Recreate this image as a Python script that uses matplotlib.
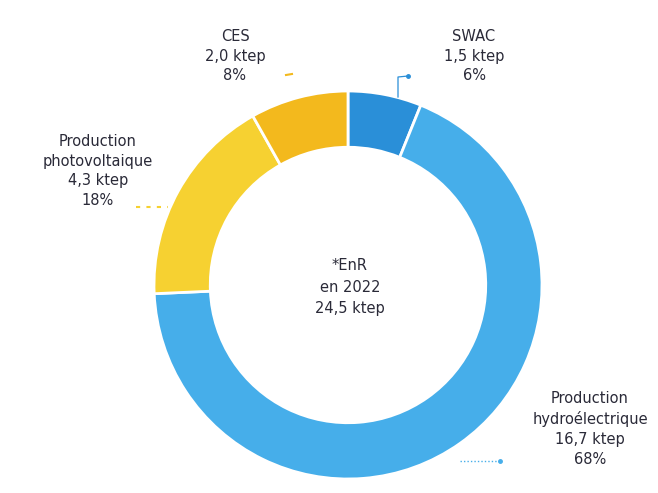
import matplotlib.pyplot as plt

labels = ['SWAC', 'Production\nhydroélectrique', 'Production\nphotovoltaique', 'CES']
values = [1.5, 16.7, 4.3, 2.0]
shares = [6, 68, 18, 8]
colors = ['#2a8fd8', '#46aeea', '#f6d131', '#f3b91d']
total_label = '*EnR\nen 2022\n24,5 ktep'

plt.rcParams['font.family'] = ['DejaVu Sans']
txt_color = '#2a2a38'

fig = plt.figure(figsize=(6.58, 4.93), dpi=100)
W, H = 658, 493
cx, cy, r = 348, 285, 194
ax = fig.add_axes([(cx - r) / W, (H - cy - r) / H, 2 * r / W, 2 * r / H])

ax.pie(values, colors=colors, startangle=90, counterclock=False,
       wedgeprops=dict(width=0.29, edgecolor='white', linewidth=2))
ax.set_xlim(-1, 1)
ax.set_ylim(-1, 1)
ax.set_aspect('equal')
ax.axis('off')


def px(x, y):
    # pixel position -> data coords of the pie axes
    return (x - cx) / r, (cy - y) / r


def label_text(i):
    return f"{labels[i]}\n{values[i]:.1f} ktep\n{shares[i]}%".replace('.', ',')


style = dict(ha='center', va='center', fontsize=10.5, color=txt_color,
             linespacing=1.4)
ax.text(*px(474, 56), label_text(0), **style)
ax.text(*px(590, 429), label_text(1), **style)
ax.text(*px(98, 171), label_text(2), **style)
ax.text(*px(235, 56), label_text(3), **style)

ax.text(*px(350, 287), total_label, **{**style, 'linespacing': 1.55})

# small leader marks
x0, y0 = px(398, 97)
x1, y1 = px(398, 77)
x2, y2 = px(408, 76)
ax.plot([x0, x1, x2], [y0, y1, y2], color='#2a8fd8', lw=0.9, clip_on=False)
ax.plot([x2], [y2], 'o', ms=2.5, color='#2a8fd8', clip_on=False)

a, b = px(286, 75), px(292, 74)
ax.plot([a[0], b[0]], [a[1], b[1]], color='#f3b91d', lw=1.5, clip_on=False)

a, b = px(136, 207), px(168, 207)
ax.plot([a[0], b[0]], [a[1], b[1]], color='#f6d131', lw=1.5, ls=(0, (2, 3)), clip_on=False)

a, b = px(460, 461), px(500, 461)
ax.plot([a[0], b[0]], [a[1], b[1]], color='#46aeea', lw=1, ls=(0, (1, 1.5)), clip_on=False)
ax.plot([b[0]], [b[1]], 'o', ms=2.5, color='#46aeea', clip_on=False)

plt.savefig('out.png', dpi=100)
plt.close()
